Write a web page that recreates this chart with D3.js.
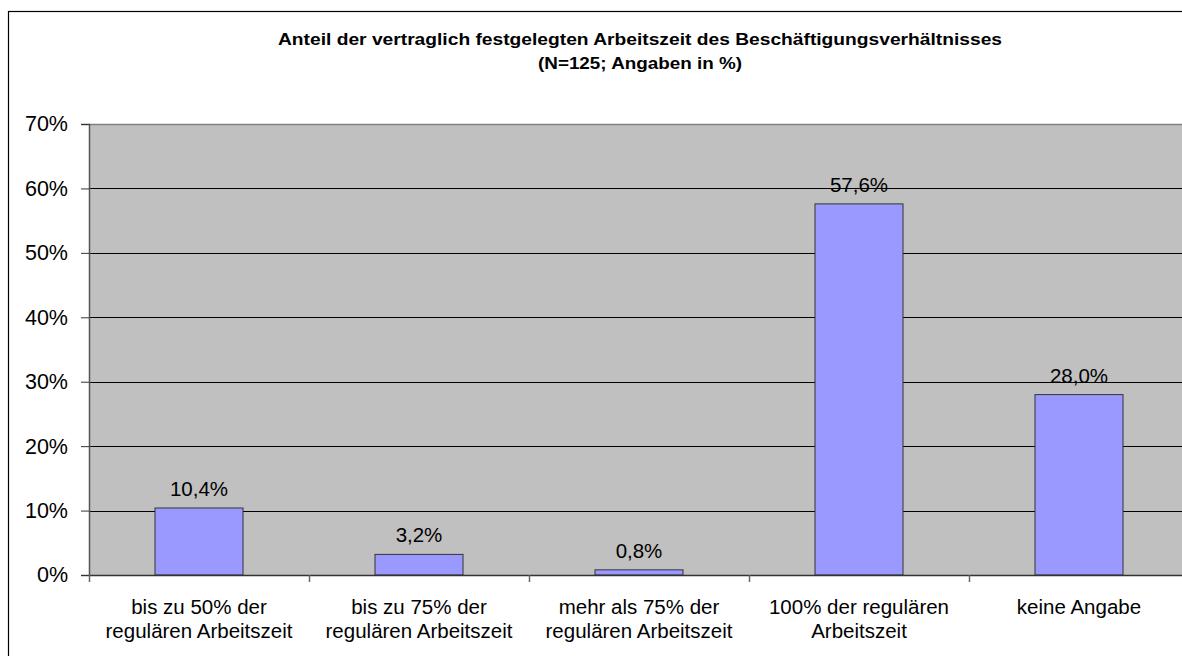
<!DOCTYPE html>
<html>
<head>
<meta charset="utf-8">
<script src="https://cdn.jsdelivr.net/npm/d3@7"></script>
<style>
  body { margin: 0; background: #fff; }
  svg { display: block; font-family: "Liberation Sans", Arial, sans-serif; }
</style>
</head>
<body>
<div id="chart"></div>
<script>
// data
const categories = [
    ["bis zu 50% der", "regulären Arbeitszeit"],
    ["bis zu 75% der", "regulären Arbeitszeit"],
    ["mehr als 75% der", "regulären Arbeitszeit"],
    ["100% der regulären", "Arbeitszeit"],
    ["keine Angabe"]
];
const values = [10.4, 3.2, 0.8, 57.6, 28.0];
const yTicks = [0, 10, 20, 30, 40, 50, 60, 70];
const titleLines = [
    "Anteil der vertraglich festgelegten Arbeitszeit des Beschäftigungsverhältnisses",
    "(N=125; Angaben in %)"
];
const titleWidths = [724, 204];

const width = 1182, height = 656;
const plotLeft = 89, plotRight = 1189, plotTop = 124, plotBottom = 575;

const svg = d3.select("#chart")
    .append("svg")
    .attr("width", width)
    .attr("height", height);

// outer frame of the chart
svg.append("rect")
    .attr("x", 8.5)
    .attr("y", 11.5)
    .attr("width", 1200)
    .attr("height", 700)
    .attr("fill", "#fff")
    .attr("stroke", "#000")
    .attr("stroke-width", 1.2);

const x = d3.scaleBand()
    .domain(d3.range(values.length))
    .range([plotLeft, plotRight])
    .paddingInner(0.6)
    .paddingOuter(0.3);

const y = d3.scaleLinear()
    .domain([0, 70])
    .range([plotBottom, plotTop]);

// plot area
svg.append("rect")
    .attr("x", plotLeft)
    .attr("y", plotTop)
    .attr("width", plotRight - plotLeft)
    .attr("height", plotBottom - plotTop)
    .attr("fill", "#c0c0c0");

svg.append("line")
    .attr("x1", plotLeft).attr("x2", plotRight)
    .attr("y1", plotTop + 0.5).attr("y2", plotTop + 0.5)
    .attr("stroke", "#808080")
    .attr("stroke-width", 1.5);

// grid lines
svg.selectAll(".grid")
    .data(yTicks.filter(d => d > 0 && d < 70))
    .join("line")
    .attr("x1", plotLeft).attr("x2", plotRight)
    .attr("y1", d => Math.round(y(d)) + 0.5)
    .attr("y2", d => Math.round(y(d)) + 0.5)
    .attr("stroke", "#000")
    .attr("stroke-width", 1);

// bars
svg.selectAll(".bar")
    .data(values)
    .join("rect")
    .attr("x", (d, i) => x(i))
    .attr("y", d => y(d))
    .attr("width", x.bandwidth())
    .attr("height", d => y(0) - y(d))
    .attr("fill", "#9999ff")
    .attr("stroke", "#333")
    .attr("stroke-width", 1);

// value labels
svg.selectAll(".val")
    .data(values)
    .join("text")
    .attr("x", (d, i) => x(i) + x.bandwidth() / 2)
    .attr("y", d => y(d) - 12)
    .attr("text-anchor", "middle")
    .style("font-size", "20.5px")
    .attr("fill", "#000")
    .text(d => d3.format(".1f")(d).replace(".", ",") + "%");

// y axis
const yAxis = d3.axisLeft(y)
    .tickValues(yTicks)
    .tickFormat(d => d + "%")
    .tickSize(8)
    .tickPadding(13);

svg.append("g")
    .attr("transform", `translate(${plotLeft},0)`)
    .call(yAxis)
    .call(g => g.select(".domain").attr("stroke", "#555").attr("stroke-width", 1.5))
    .call(g => g.selectAll(".tick line").attr("stroke", "#333"))
    .call(g => g.selectAll(".tick text")
        .style("font-size", "21.5px")
        .attr("fill", "#000")
        .style("font-family", "Liberation Sans, Arial, sans-serif"));

// x axis line and ticks between categories
svg.append("line")
    .attr("x1", plotLeft).attr("x2", plotRight)
    .attr("y1", plotBottom + 0.5).attr("y2", plotBottom + 0.5)
    .attr("stroke", "#333")
    .attr("stroke-width", 1.5);

const boundaries = d3.range(values.length + 1).map(i => plotLeft + i * x.step());
svg.selectAll(".xtick")
    .data(boundaries)
    .join("line")
    .attr("x1", d => d + 0.5).attr("x2", d => d + 0.5)
    .attr("y1", plotBottom).attr("y2", plotBottom + 7)
    .attr("stroke", "#666")
    .attr("stroke-width", 1.5);

// category labels
const catText = svg.selectAll(".cat")
    .data(categories)
    .join("text")
    .attr("text-anchor", "middle")
    .style("font-size", "20.5px")
    .attr("fill", "#000");

catText.selectAll("tspan")
    .data((d, i) => d.map(line => ({ line, i })))
    .join("tspan")
    .attr("x", d => x(d.i) + x.bandwidth() / 2)
    .attr("y", (d, j) => 614 + j * 24)
    .text(d => d.line);

// title
svg.selectAll(".title")
    .data(titleLines)
    .join("text")
    .attr("x", 640)
    .attr("y", (d, i) => 45 + i * 24)
    .attr("text-anchor", "middle")
    .attr("textLength", (d, i) => titleWidths[i])
    .attr("lengthAdjust", "spacingAndGlyphs")
    .style("font-size", "17px")
    .style("font-weight", "bold")
    .attr("fill", "#000")
    .text(d => d);
</script>
</body>
</html>
